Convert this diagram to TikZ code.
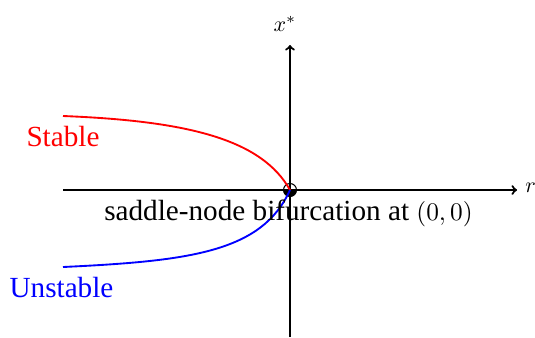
\documentclass[tikz,border=0pt]{standalone}
\usepackage{fontspec}
\setmainfont{Liberation Serif}
\newcommand{\bigmath}[2]{{\fontsize{10}{12}\selectfont\scalebox{#1}{$#2$}}}
\begin{document}
\begin{tikzpicture}[x=0.75pt,y=-0.75pt,
  axis/.style={line width=1.6pt,->},
  curve/.style={line width=1.4pt},
  lbl/.style={inner sep=0pt,font=\fontsize{21.9}{24}\selectfont},
  mlbl/.style={inner sep=0pt}]
\useasboundingbox (0,0) rectangle (535,337);
\coordinate (O) at (290,190);
\coordinate (xl) at (63,190);
\coordinate (xr) at (517,190);
\coordinate (yb) at (290,337);
\coordinate (yt) at (290,45);
\coordinate (rs) at (63,116);
\coordinate (bs) at (63,267);
\draw[axis] (xl) -- (xr);
\draw[axis] (yb) -- (yt);
\node[mlbl,anchor=base] (xs) at (285,31) {\bigmath{1.65}{x^*}};
\node[mlbl,anchor=base west] (rl) at (525,192) {\bigmath{1.65}{r}};
\fill[black] (O) ++(6.5,0) arc[start angle=0,end angle=180,radius=6.5] -- cycle;
\draw[line width=0.8pt] (O) circle[radius=6.5];
\draw[curve,red] (rs) .. controls (190,121) and (262,140) .. (O);
\draw[curve,blue] (bs) .. controls (190,261) and (262,252) .. (O);
\node[lbl,red,anchor=base] (st) at (63,146) {Stable};
\node[lbl,blue,anchor=base] (un) at (61.5,297) {Unstable};
\node[lbl,anchor=base west] (sn) at (104,220) {saddle-node bifurcation at \bigmath{1.9}{(0,0)}};
\end{tikzpicture}
\end{document}
